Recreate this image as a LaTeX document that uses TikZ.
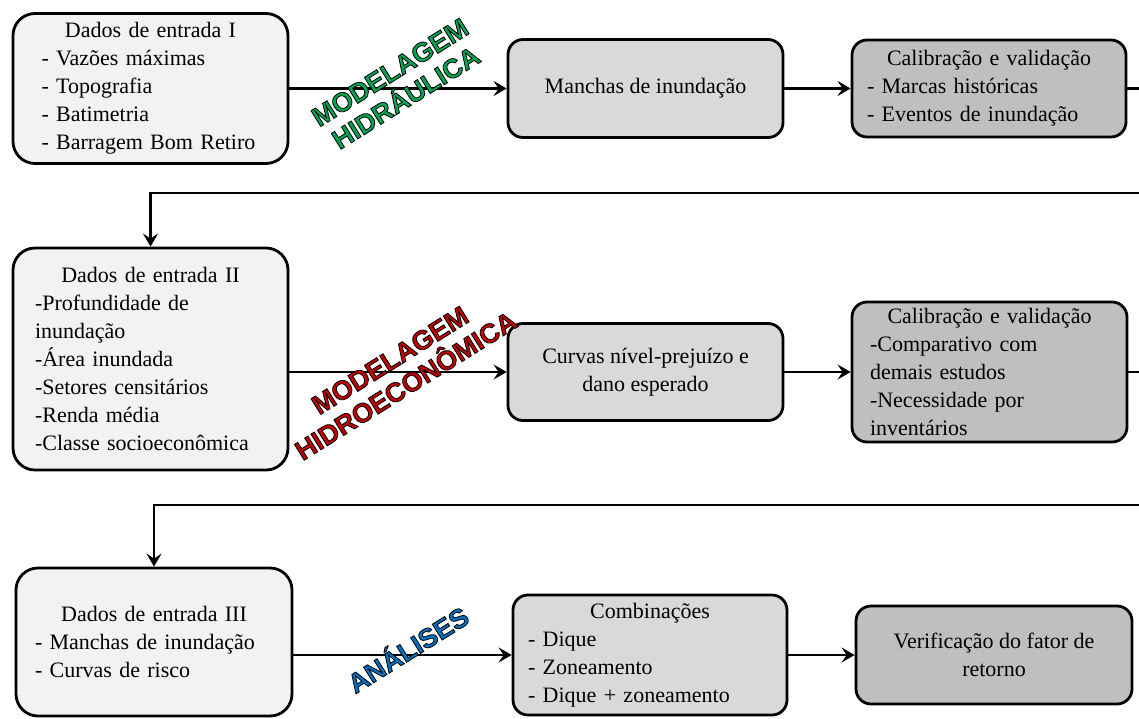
\documentclass[tikz,border=0pt]{standalone}
\usepackage{fontspec}
\setmainfont{Liberation Serif}
\newfontfamily\rotulofont{Liberation Sans}
\usetikzlibrary{arrows.meta}
\definecolor{CinzaClaro}{RGB}{242, 242, 242}
\definecolor{CinzaMedio}{RGB}{217, 217, 217}
\definecolor{CinzaEscuro}{RGB}{191, 191, 191}
\definecolor{VerdeRotulo}{RGB}{0, 166, 81}
\definecolor{VermelhoRotulo}{RGB}{192, 0, 0}
\definecolor{AzulRotulo}{RGB}{0, 112, 192}
\newcommand{\titulo}[1]{\makebox[\linewidth]{#1}}
\newcommand{\contorno}[1]{\special{pdf:literal direct 0 0 0 RG 0.8 w 2 Tr}#1\special{pdf:literal direct 0 Tr}}

\begin{document}
\begin{tikzpicture}[x=1pt, y=-1pt,
    caixa/.style={draw, line width=2.8pt, rounded corners=15pt, inner sep=0pt,
      minimum width=275pt, font=\fontsize{22}{28}\selectfont},
    entrada/.style={caixa, fill=CinzaClaro, rounded corners=22pt, align=left},
    processo/.style={caixa, fill=CinzaMedio, align=left},
    resultado/.style={caixa, fill=CinzaEscuro, align=left},
    seta/.style={line width=2.8pt, -{Stealth[length=13pt, width=15pt, inset=5pt]}},
    rotulo/.style={font=\rotulofont\bfseries\fontsize{27}{30}\selectfont,
      rotate=32, align=center, inner sep=0pt}]
    \useasboundingbox (0, 0) rectangle (1139, 718);

    % Linha 1
    \node[entrada, text width=218pt, minimum height=150pt] (dadosI) at (150.5, 88.5)
      {\titulo{Dados de entrada I}\\- Vazões máximas\\- Topografia\\- Batimetria\\- Barragem Bom Retiro};
    \node[processo, align=center, minimum height=98pt] (manchas) at (645.5, 88.5) {Manchas de inundação};
    \node[resultado, text width=244pt, minimum width=274pt, minimum height=97pt] (calibI) at (989, 88.5)
      {\titulo{Calibração e validação}\\- Marcas históricas\\- Eventos de inundação};

    % Linha 2
    \node[entrada, text width=231pt, minimum height=222pt] (dadosII) at (150.5, 359)
      {\titulo{Dados de entrada II}\\-Profundidade de\\inundação\\-Área inundada\\-Setores censitários\\-Renda média\\-Classe socioeconômica};
    \node[processo, align=center, minimum height=97pt] (curvas) at (645.5, 372)
      {Curvas nível-prejuízo e\\dano esperado};
    \node[resultado, text width=239pt, minimum height=140pt] (calibII) at (989.5, 372)
      {\titulo{Calibração e validação}\\-Comparativo com\\demais estudos\\-Necessidade por\\inventários};

    % Linha 3
    \node[entrada, text width=238pt, minimum width=276pt, minimum height=148pt] (dadosIII) at (154, 642)
      {\titulo{Dados de entrada III}\\- Manchas de inundação\\- Curvas de risco};
    \node[processo, text width=244pt, minimum width=274pt, minimum height=120pt] (combina) at (650, 655)
      {\titulo{Combinações}\\- Dique\\- Zoneamento\\- Dique + zoneamento};
    \node[resultado, align=center, minimum width=276pt, minimum height=98pt] (verifica) at (994, 655)
      {Verificação do fator de\\retorno};

    % Conexoes
    \draw[seta] (dadosI) -- (manchas);
    \draw[seta] (manchas) -- (calibI);
    \draw[seta] (dadosII.east |- curvas.west) -- (curvas.west);
    \draw[seta] (curvas) -- (calibII);
    \draw[seta] (dadosIII.east |- combina.west) -- (combina.west);
    \draw[seta] (combina) -- (verifica);

    \coordinate (voltaI) at (1160, 193);
    \coordinate (voltaII) at (1160, 505);
    \draw[seta] (calibI.east) -| (voltaI) -| (dadosII.north);
    \draw[seta] (calibII.east) -| (voltaII) -| (dadosIII.north);

    % Rotulos
    \node[rotulo, text=VerdeRotulo] (rotHidraulica) at (398, 85)
      {\contorno{MODELAGEM}\\\contorno{HIDRÁULICA}};
    \node[rotulo, text=VermelhoRotulo] (rotEconomica) at (398, 373)
      {\contorno{MODELAGEM}\\\contorno{HIDROECONÔMICA}};
    \node[rotulo, text=AzulRotulo] (rotAnalises) at (407, 648) {\contorno{ANÁLISES}};
\end{tikzpicture}
\end{document}
